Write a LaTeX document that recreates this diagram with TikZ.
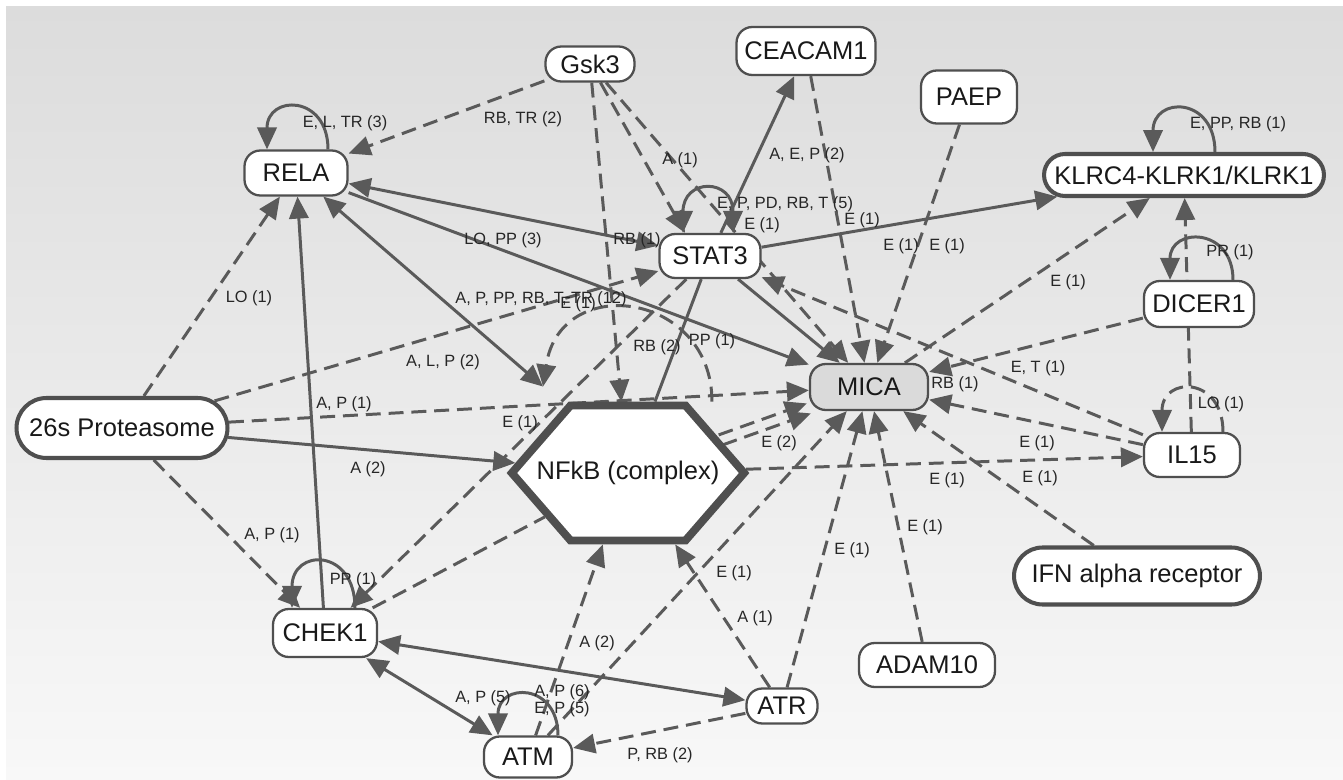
\documentclass[tikz,border=0pt]{standalone}
\usepackage{fontspec}
\setmainfont{Liberation Sans}
\usetikzlibrary{arrows.meta,shapes.misc,shapes.symbols,backgrounds}
\definecolor{linegray}{HTML}{5A5A5A}
\definecolor{boxgray}{HTML}{4F4F4F}
\definecolor{micagray}{HTML}{DADADA}
\definecolor{bgtop}{HTML}{DCDCDC}
\definecolor{bgbottom}{HTML}{F8F8F8}
\pgfdeclarelayer{edges}
\pgfsetlayers{background,edges,main}

\begin{document}
\begin{tikzpicture}[x=0.02cm,y=-0.02cm,
  mol/.style={draw=boxgray,line width=1.3pt,fill=white,rounded corners=9pt,inner sep=0pt,
    text=black!90,font=\fontsize{14.5}{17}\selectfont},
  bigmol/.style={mol,sharp corners,rounded rectangle,line width=2.3pt},
  cplx/.style={signal,signal to=east and west,signal from=nowhere,signal pointer angle=98,
    draw=boxgray,line width=4.5pt,fill=white,inner sep=0pt,text=black!90,
    font=\fontsize{14.5}{17}\selectfont},
  rel/.style={draw=linegray,line width=1.7pt},
  drel/.style={rel,dash pattern=on 8.5pt off 4.5pt},
  lbl/.style={inner sep=0pt,text=black!85,font=\fontsize{9.3}{11}\selectfont},
  >={Triangle[length=12.5pt,width=11pt]}]
\useasboundingbox (0,0) rectangle (1343,780);
\begin{pgfonlayer}{background}
\fill[white] (0,0) rectangle (1343,780);
\shade[top color=bgtop,bottom color=bgbottom] (6,7) rectangle (1343,780);
\end{pgfonlayer}

\node[mol,minimum width=2.06cm,minimum height=0.9cm] (RELA) at (296,173) {RELA};
\node[mol,minimum width=1.78cm,minimum height=0.7cm] (Gsk3) at (590,64) {Gsk3};
\node[mol,minimum width=2.78cm,minimum height=0.96cm] (CEACAM1) at (806,51) {CEACAM1};
\node[mol,minimum width=1.92cm,minimum height=1.06cm] (PAEP) at (969,97) {PAEP};
\node[bigmol,minimum width=5.6cm,minimum height=0.84cm] (KLRC4) at (1184,175) {KLRC4-KLRK1/KLRK1};
\node[mol,minimum width=2.02cm,minimum height=0.88cm] (STAT3) at (710,256) {STAT3};
\node[mol,minimum width=2.2cm,minimum height=0.92cm] (DICER1) at (1199,304) {DICER1};
\node[mol,fill=micagray,minimum width=2.36cm,minimum height=0.92cm] (MICA) at (869,387) {MICA};
\node[mol,minimum width=1.92cm,minimum height=0.88cm] (IL15) at (1192,455) {IL15};
\node[bigmol,minimum width=4.22cm,minimum height=1.2cm] (P26) at (122,428) {26s Proteasome};
\node[cplx,minimum height=2.7cm] (NFkB) at (628,473) {\makebox[2.3cm]{NFkB (complex)}};
\node[mol,minimum width=2.08cm,minimum height=0.96cm] (CHEK1) at (325,633) {CHEK1};
\node[mol,minimum width=1.76cm,minimum height=0.82cm] (ATM) at (528,757) {ATM};
\node[mol,minimum width=1.42cm,minimum height=0.7cm] (ATR) at (782,706) {ATR};
\node[mol,minimum width=2.72cm,minimum height=0.88cm] (ADAM10) at (927,665) {ADAM10};
\node[bigmol,minimum width=4.92cm,minimum height=1.14cm] (IFN) at (1137,576) {IFN alpha receptor};

\begin{pgfonlayer}{edges}
\draw[drel,->] (P26) -- (RELA);
\draw[drel,->] (P26) -- (STAT3);
\draw[drel,->] (P26) -- (MICA);
\draw[rel,->] (P26) -- (NFkB);
\draw[drel,->] (P26) -- (CHEK1);
\draw[rel,->] ([xshift=0.64cm]RELA.north) .. controls +(0,-55) and +(0,-55) .. ([xshift=-0.58cm]RELA.north);
\draw[drel,->] (Gsk3) -- (RELA);
\draw[rel,<->] (RELA) -- (STAT3);
\draw[rel,->] (RELA) -- (MICA);
\draw[rel,<->] (RELA) -- ([xshift=-1.7cm,yshift=0.3cm]NFkB.north);
\draw[rel,->] (CHEK1) -- (RELA);
\draw[drel,->] (Gsk3) -- (NFkB);
\draw[drel,->] (Gsk3) -- ([xshift=-0.5cm]STAT3.north);
\draw[drel,->] (Gsk3) -- (MICA);
\draw[rel,<->] ([xshift=0.46cm]STAT3.north) .. controls +(0,-55) and +(0,-55) .. ([xshift=-0.54cm]STAT3.north);
\draw[rel,->] (STAT3) -- (CEACAM1);
\draw[rel,->] (STAT3) -- (KLRC4);
\draw[rel,->] (STAT3) -- (MICA);
\draw[drel,->] (IL15) -- (STAT3);
\draw[rel] (STAT3) -- (NFkB);
\draw[drel,->] (STAT3) -- (CHEK1);
\draw[drel,->] ([xshift=1.68cm]NFkB.north) .. controls +(0,-110) and +(17,-115) .. ([xshift=-1.7cm,yshift=0.3cm]NFkB.north);
\draw[drel,->,transform canvas={xshift=-0.04cm,yshift=0.1cm}] (NFkB) -- (MICA);
\draw[drel,->,transform canvas={xshift=0.04cm,yshift=-0.1cm}] (NFkB) -- (MICA);
\draw[drel,->] (NFkB) -- (IL15);
\draw[drel] (CHEK1) -- (NFkB);
\draw[drel,->] (ATM) -- (NFkB);
\draw[drel,->] (ATR) -- (NFkB);
\draw[drel,->] (ATM) -- (MICA);
\draw[drel,->] (ATR) -- (MICA);
\draw[drel,->] (ADAM10) -- (MICA);
\draw[drel,->] (IFN) -- (MICA);
\draw[drel,->] (IL15) -- (MICA);
\draw[drel,->] (DICER1) -- (MICA);
\draw[drel,->] (MICA) -- (KLRC4);
\draw[drel,->] (PAEP) -- (MICA);
\draw[drel,->] (CEACAM1) -- (MICA);
\draw[drel,->] (IL15) -- (KLRC4);
\draw[rel,->] ([xshift=0.62cm]KLRC4.north) .. controls +(0,-56) and +(0,-56) .. ([xshift=-0.62cm]KLRC4.north);
\draw[rel,->] ([xshift=0.68cm]DICER1.north) .. controls +(0,-53) and +(0,-53) .. ([xshift=-0.58cm]DICER1.north);
\draw[drel,->] ([xshift=0.62cm]IL15.north) .. controls +(0,-56) and +(0,-56) .. ([xshift=-0.6cm]IL15.north);
\draw[rel,->] ([xshift=0.6cm]CHEK1.north) .. controls +(0,-60) and +(0,-60) .. ([xshift=-0.66cm]CHEK1.north);
\draw[rel,<->] (CHEK1) -- (ATR);
\draw[rel,<->] (CHEK1) -- (ATM);
\draw[rel,->] ([xshift=0.6cm]ATM.north) .. controls +(0,-53) and +(0,-53) .. ([xshift=-0.6cm]ATM.north);
\draw[drel,->] (ATR) -- (ATM);
\end{pgfonlayer}

\node[lbl] (tRELA) at (345,123) {E, L, TR (3)};
\node[lbl] (tGskRELA) at (523,119) {RB, TR (2)};
\node[lbl] (tGskSTAT) at (680,160) {A (1)};
\node[lbl] (tCEACAM) at (807,155) {A, E, P (2)};
\node[lbl] (tSTAT) at (785,204) {E, P, PD, RB, T (5)};
\node[lbl] (tGskMICA) at (762,225) {E (1)};
\node[lbl] (tCEAMICA) at (862,220) {E (1)};
\node[lbl] (tKLRC) at (1238,124) {E, PP, RB (1)};
\node[lbl] (tSTATKLRC) at (901,246) {E (1)};
\node[lbl] (tPAEP) at (947,246) {E (1)};
\node[lbl] (tDICER) at (1230,252) {PR (1)};
\node[lbl] (tRELASTAT) at (503,240) {LO, PP (3)};
\node[lbl] (tRB) at (637,240) {RB (1)};
\node[lbl] (tLO) at (249,298) {LO (1)};
\node[lbl] (tAP) at (344,404) {A, P (1)};
\node[lbl] (tA2) at (368,469) {A (2)};
\node[lbl] (tALP) at (443,362) {A, L, P (2)};
\node[lbl] (t12) at (541,299) {A, P, PP, RB, T, TR (12)};
\node[lbl] (tGskNF) at (578,304) {E (1)};
\node[lbl] (tRB2) at (657,347) {RB (2)};
\node[lbl] (tNFloop) at (712,341) {PP (1)};
\node[lbl] (tSTATCHEK) at (520,423) {E (1)};
\node[lbl] (tE2) at (779,443) {E (2)};
\node[lbl] (tMICAKLRC) at (1068,282) {E (1)};
\node[lbl] (tET) at (1038,368) {E, T (1)};
\node[lbl] (tRBMICA) at (955,384) {RB (1)};
\node[lbl] (tIL15) at (1221,404) {LO (1)};
\node[lbl] (tIL15MICA) at (1037,443) {E (1)};
\node[lbl] (tNFIL15) at (947,480) {E (1)};
\node[lbl] (tIFN) at (1040,478) {E (1)};
\node[lbl] (tAPCHEK) at (272,535) {A, P (1)};
\node[lbl] (tCHEK) at (353,580) {PP (1)};
\node[lbl] (tATMNF) at (597,643) {A (2)};
\node[lbl] (tATMMICA) at (734,573) {E (1)};
\node[lbl] (tATRNF) at (755,618) {A (1)};
\node[lbl] (tATRMICA) at (852,550) {E (1)};
\node[lbl] (tADAM) at (925,527) {E (1)};
\node[lbl] (tCHEKATM) at (483,698) {A, P (5)};
\node[lbl] (tATM) at (562,692) {A, P (6)};
\node[lbl] (tATM2) at (562,709) {E, P (5)};
\node[lbl] (tATRATM) at (660,755) {P, RB (2)};
\end{tikzpicture}
\end{document}
